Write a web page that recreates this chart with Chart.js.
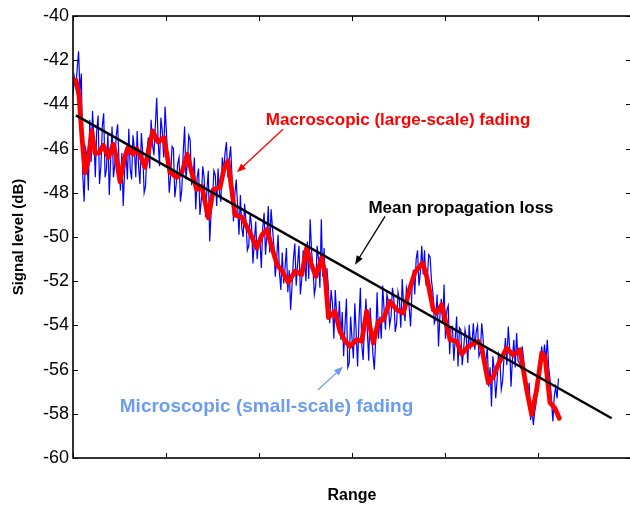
<!DOCTYPE html>
<html>
<head>
<meta charset="utf-8">
<script src="https://cdn.jsdelivr.net/npm/chart.js@4.4.1/dist/chart.umd.min.js"></script>
<style>
    html, body { margin: 0; padding: 0; background: #fff; overflow: hidden; }
    #wrap { width: 640px; height: 507px; }
</style>
</head>
<body>
<div id="wrap"><canvas id="chart" width="640" height="507"></canvas></div>
<script>
// Axis ticks (range is unitless, ticks carry no labels)
const rangeTicks = [0, 100, 200, 300, 400, 500, 600];
const levelTicks = [-60, -58, -56, -54, -52, -50, -48, -46, -44, -42, -40];

// Small-scale fading trace, sampled every 1.5 range units from 0
const microStart = 0;
const microStep = 1.5;
const microLevels = [
    -43.6, -42.8, -43.3, -42.4, -41.6, -43.4, -42.6, -47.2, -48.4, -46.0, -46.3, -47.9, -44.7, -46.6, -44.3, -45.6, -47.3, -45.2, -44.5, -47.6,
    -46.8, -45.0, -44.4, -47.3, -46.9, -45.3, -48.1, -46.5, -45.0, -47.3, -46.7, -45.4, -44.9, -46.6, -47.9, -46.2, -48.6, -47.0, -46.2, -47.4,
    -45.1, -46.9, -47.4, -45.4, -46.0, -47.3, -45.2, -46.8, -47.6, -45.3, -46.2, -48.0, -47.7, -46.1, -45.5, -46.9, -44.7, -45.8, -46.3, -45.0,
    -43.7, -45.6, -46.8, -44.6, -45.2, -46.4, -44.1, -45.3, -46.5, -48.0, -47.2, -45.9, -46.0, -48.2, -47.6, -46.7, -46.4, -48.4, -47.85, -46.2,
    -45.0, -47.4, -46.6, -45.4, -45.6, -47.6, -47.5, -46.4, -48.75, -47.3, -46.9, -49.0, -48.3, -46.8, -47.3, -49.1, -47.85, -47.0, -50.2, -48.9,
    -48.3, -47.0, -47.2, -48.6, -46.9, -48.0, -48.4, -46.4, -47.0, -46.2, -45.7, -47.3, -46.5, -45.9, -47.3, -49.3, -48.1, -47.4, -48.6, -49.9,
    -48.1, -49.6, -50.0, -48.5, -49.3, -50.6, -50.4, -48.9, -49.5, -51.2, -50.2, -49.3, -51.0, -50.2, -50.1, -51.4, -49.6, -48.9, -50.8, -49.9,
    -48.6, -50.7, -48.75, -49.6, -50.4, -51.8, -51.0, -49.9, -51.6, -52.4, -50.7, -52.1, -51.4, -50.5, -52.5, -51.5, -53.3, -52.2, -51.0, -50.3,
    -52.2, -51.2, -50.4, -52.6, -51.9, -50.6, -51.1, -52.0, -50.2, -51.9, -49.2, -50.6, -51.4, -52.6, -52.2, -50.4, -51.0, -52.3, -49.2, -51.8,
    -50.5, -52.6, -51.4, -52.2, -53.9, -52.4, -53.0, -54.6, -52.4, -53.5, -54.1, -52.9, -54.65, -53.4, -55.4, -54.0, -52.8, -55.9, -55.7, -53.6,
    -54.6, -55.5, -53.0, -54.3, -55.86, -53.8, -52.3, -54.9, -55.56, -53.9, -52.8, -54.3, -55.6, -53.2, -54.2, -55.3, -56.0, -54.6, -52.5, -54.6,
    -53.6, -54.6, -52.2, -53.3, -54.2, -52.6, -52.9, -54.0, -53.6, -52.3, -52.8, -54.3, -53.9, -52.5, -52.9, -54.1, -51.9, -53.1, -53.8, -52.3,
    -52.6, -53.2, -54.05, -52.4, -51.5, -52.6, -51.0, -50.6, -52.2, -51.6, -50.4, -51.7, -50.6, -52.1, -51.9, -50.8, -50.9, -52.0, -52.5, -53.9,
    -53.7, -52.6, -54.95, -53.6, -52.8, -53.9, -52.15, -54.6, -53.3, -53.1, -55.3, -54.1, -54.05, -55.6, -54.6, -53.6, -55.86, -54.1, -54.2, -55.8,
    -55.1, -54.2, -54.6, -55.7, -53.97, -55.0, -54.8, -53.9, -55.1, -54.3, -54.0, -55.4, -55.2, -53.9, -54.6, -56.1, -55.63, -55.0, -56.77, -55.9,
    -57.67, -55.4, -56.0, -57.3, -56.5, -55.3, -55.56, -56.9, -56.5, -55.4, -54.57, -55.8, -54.05, -55.0, -56.77, -55.5, -54.65, -55.9, -54.34, -55.6,
    -55.7, -55.9, -54.95, -55.5, -56.46, -57.1, -57.37, -56.6, -58.28, -57.8, -58.5, -57.9, -57.5, -56.4, -56.17, -55.7, -54.95, -55.6, -54.87, -55.6,
    -54.65, -55.9, -56.46, -57.4, -58.35, -57.2, -56.8, -57.3, -56.4
];

// Large-scale fading (smoothed) trace
const macroRange = [
    0.3, 3.2, 6.5, 9.7, 12.9, 16.1, 20.1, 23.7, 28.0, 32.6,
    38.0, 43.3, 46.2, 50.5, 54.8, 59.1, 64.5, 68.5, 73.1, 77.4,
    81.7, 85.7, 91.4, 97.8, 101.1, 104.3, 111.5, 116.9, 122.9, 127.6,
    133.0, 138.4, 141.9, 145.5, 150.9, 158.1, 162.4, 166.7, 169.9, 174.2,
    181.4, 190.3, 197.5, 203.2, 208.6, 214.0, 219.4, 225.8, 231.5, 238.7,
    245.9, 251.3, 255.9, 261.3, 267.4, 271.0, 274.7, 281.7, 287.1, 292.5,
    297.8, 305.1, 310.4, 315.8, 322.9, 328.3, 333.7, 340.9, 348.1, 355.2,
    362.4, 367.7, 376.0, 380.3, 387.4, 391.1, 396.5, 405.4, 412.6, 418.0,
    425.1, 435.8, 439.5, 446.6, 452.0, 459.1, 466.3, 473.4, 480.6, 487.8,
    493.2, 498.6, 504.0, 507.5, 512.9, 518.3, 522.9
];
const macroLevels = [
    -42.9, -42.9, -43.6, -45.5, -47.1, -46.6, -45.2, -46.2, -46.2, -45.85,
    -46.4, -45.8, -46.3, -47.5, -46.5, -45.95, -46.25, -46.0, -46.4, -46.85,
    -46.0, -45.2, -45.7, -45.5, -46.3, -47.07, -47.3, -47.1, -46.26, -47.07,
    -47.85, -47.7, -48.4, -49.13, -47.85, -47.76, -46.9, -46.56, -47.6, -49.0,
    -49.1, -49.8, -50.5, -49.9, -49.66, -50.5, -51.25, -51.6, -52.06, -51.55,
    -51.7, -50.48, -51.2, -51.78, -50.94, -51.7, -53.65, -53.36, -54.27, -54.7,
    -54.95, -54.65, -54.72, -53.36, -54.8, -53.82, -53.74, -52.91, -53.29, -53.44,
    -52.3, -51.6, -51.17, -51.78, -53.29, -53.44, -53.06, -54.65, -54.72, -55.3,
    -54.95, -54.72, -55.03, -56.6, -56.3, -55.6, -55.03, -55.35, -55.1, -56.9,
    -58.05, -56.9, -55.25, -55.4, -57.5, -57.75, -58.2
];

// Mean propagation loss (straight fit)
const meanRange = [3.2, 579.2];
const meanLevels = [-44.5, -58.2];

// Callouts, placed in data units
const callouts = [
    { text: 'Macroscopic (large-scale) fading', color: '#ff0000', size: 17, x: 349.5, y: -44.94, from: [225.8, -45.12], to: [176.3, -47.07] },
    { text: 'Mean propagation loss', color: '#000000', size: 17, x: 417.2, y: -48.93, from: [335.5, -49.07], to: [303.2, -51.25] },
    { text: 'Microscopic (small-scale) fading', color: '#6a9cf2', size: 19, x: 208.1, y: -57.9, from: [263.4, -56.92], to: [290.3, -55.87] }
];

const FONT = '"Liberation Sans", Arial, Helvetica, sans-serif';
Chart.defaults.font.family = FONT;
Chart.defaults.color = '#000';

function drawArrow(ctx, x0, y0, x1, y1, color) {
    const ang = Math.atan2(y1 - y0, x1 - x0);
    const len = 9, half = 3.5;
    ctx.strokeStyle = color;
    ctx.fillStyle = color;
    ctx.lineWidth = 1.3;
    ctx.beginPath();
    ctx.moveTo(x0, y0);
    ctx.lineTo(x1 - Math.cos(ang) * len * 0.8, y1 - Math.sin(ang) * len * 0.8);
    ctx.stroke();
    ctx.beginPath();
    ctx.moveTo(x1, y1);
    ctx.lineTo(x1 - Math.cos(ang) * len - Math.sin(ang) * half, y1 - Math.sin(ang) * len + Math.cos(ang) * half);
    ctx.lineTo(x1 - Math.cos(ang) * len + Math.sin(ang) * half, y1 - Math.sin(ang) * len - Math.cos(ang) * half);
    ctx.closePath();
    ctx.fill();
}

const framePlugin = {
    id: 'frame',
    afterDraw(chart) {
        const { ctx, chartArea: a, scales: { x, y } } = chart;
        ctx.save();

        // box
        ctx.strokeStyle = '#000';
        ctx.lineWidth = 1.6;
        ctx.strokeRect(a.left, a.top, a.right - a.left, a.bottom - a.top);

        // inward ticks on all sides
        ctx.lineWidth = 1;
        ctx.beginPath();
        rangeTicks.forEach(v => {
            const px = Math.round(x.getPixelForValue(v)) + 0.5;
            ctx.moveTo(px, a.bottom); ctx.lineTo(px, a.bottom - 5);
            ctx.moveTo(px, a.top); ctx.lineTo(px, a.top + 5);
        });
        levelTicks.forEach(v => {
            const py = Math.round(y.getPixelForValue(v)) + 0.5;
            ctx.moveTo(a.left, py); ctx.lineTo(a.left + 5, py);
            ctx.moveTo(a.right, py); ctx.lineTo(a.right - 5, py);
        });
        ctx.stroke();

        // callouts
        ctx.textAlign = 'center';
        ctx.textBaseline = 'alphabetic';
        callouts.forEach(c => {
            ctx.font = 'bold ' + c.size + 'px ' + FONT;
            ctx.fillStyle = c.color;
            ctx.fillText(c.text, x.getPixelForValue(c.x), y.getPixelForValue(c.y));
            drawArrow(ctx,
                x.getPixelForValue(c.from[0]), y.getPixelForValue(c.from[1]),
                x.getPixelForValue(c.to[0]), y.getPixelForValue(c.to[1]), c.color);
        });
        ctx.restore();
    }
};

new Chart(document.getElementById('chart'), {
    type: 'line',
    data: {
        datasets: [
            {
                label: 'Small-scale fading',
                data: microLevels.map((v, i) => ({ x: microStart + i * microStep, y: v })),
                borderColor: '#0000ff',
                borderWidth: 1.2,
                pointRadius: 0,
                order: 3
            },
            {
                label: 'Large-scale fading',
                data: macroRange.map((r, i) => ({ x: r, y: macroLevels[i] })),
                borderColor: '#ff0000',
                borderWidth: 4.8,
                borderJoinStyle: 'round',
                borderCapStyle: 'round',
                pointRadius: 0,
                order: 2
            },
            {
                label: 'Mean propagation loss',
                data: meanRange.map((r, i) => ({ x: r, y: meanLevels[i] })),
                borderColor: '#000000',
                borderWidth: 2.5,
                pointRadius: 0,
                order: 1
            }
        ]
    },
    options: {
        responsive: false,
        animation: false,
        layout: { padding: { top: 16, right: 9, left: 0, bottom: 0 } },
        plugins: { legend: { display: false }, tooltip: { enabled: false } },
        scales: {
            x: {
                type: 'linear',
                min: 0,
                max: 600,
                grid: { display: false, drawTicks: false },
                border: { display: false },
                ticks: { display: false, stepSize: 100 },
                title: {
                    display: true,
                    text: 'Range',
                    font: { size: 16, weight: 'bold' },
                    padding: { top: 0, bottom: 2 }
                },
                afterFit(scale) { scale.height = 49; }
            },
            y: {
                min: -60,
                max: -40,
                grid: { display: false, drawTicks: false },
                border: { display: false },
                ticks: {
                    stepSize: 2,
                    padding: 4,
                    font: { size: 18 },
                    color: '#000'
                },
                title: {
                    display: true,
                    text: 'Signal level (dB)',
                    font: { size: 15, weight: 'bold' },
                    padding: { top: 10, bottom: 0 }
                },
                afterFit(scale) { scale.width = 73; }
            }
        }
    },
    plugins: [framePlugin]
});
</script>
</body>
</html>
